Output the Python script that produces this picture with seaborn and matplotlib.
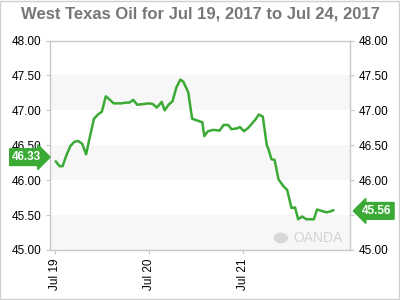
import matplotlib
matplotlib.use("Agg")
import matplotlib.pyplot as plt
import matplotlib.dates as mdates
import matplotlib.transforms as mtransforms
from matplotlib.patches import Rectangle, Circle
import seaborn as sns
import pandas as pd
import numpy as np

# ---- data ----
start = "2017-07-19 00:00"
hours = [0.25, 1.25, 2.0, 3.0, 4.0, 5.0, 6.0, 7.0, 8.0, 8.75, 10.0, 11.0, 12.0, 13.0, 13.5,
         15.0, 17.0, 18.0, 19.0, 20.0, 21.0, 22.5, 24.0, 25.0, 26.0, 27.25, 28.0, 29.0, 30.0,
         31.0, 32.0, 32.75, 34.0, 35.0, 37.0, 37.6, 38.1, 39.0, 40.3, 42.0, 43.0, 44.2, 45.0,
         46.3, 47.2, 48.2, 49.3, 51.0, 52.0, 53.0, 54.0, 54.4, 55.2, 56.0, 57.0, 58.3, 59.2,
         60.3, 61.2, 62.0, 63.0, 64.1, 66.0, 66.8, 68.0, 69.1, 70.1, 71.0]
prices = [46.27, 46.20, 46.20, 46.36, 46.49, 46.55, 46.56, 46.52, 46.37, 46.57, 46.88, 46.94,
          46.98, 47.20, 47.18, 47.10, 47.10, 47.11, 47.11, 47.15, 47.08, 47.09, 47.10, 47.09,
          47.04, 47.12, 47.00, 47.08, 47.13, 47.33, 47.44, 47.41, 47.26, 46.88, 46.84, 46.83,
          46.63, 46.70, 46.72, 46.71, 46.79, 46.79, 46.73, 46.74, 46.76, 46.70, 46.75, 46.86,
          46.94, 46.91, 46.50, 46.45, 46.30, 46.29, 46.01, 45.91, 45.86, 45.60, 45.61, 45.44,
          45.48, 45.44, 45.44, 45.58, 45.56, 45.54, 45.55, 45.57]
y_ticks = [45.00, 45.50, 46.00, 46.50, 47.00, 47.50, 48.00]
x_ticks = ["2017-07-19", "2017-07-20", "2017-07-21"]
open_price = 46.33
last_price = 45.56
title = "West Texas Oil for Jul 19, 2017 to Jul 24, 2017"

df = pd.DataFrame({"time": pd.Timestamp(start) + pd.to_timedelta(hours, unit="h"),
                   "price": prices})

sns.set_style("white")
plt.rcParams["font.family"] = ["Liberation Sans", "DejaVu Sans"]

GREEN = "#3aaa35"
GRID = "#c8c8c8"

fig = plt.figure(figsize=(4, 3), dpi=100)
ax = fig.add_axes([50/400, 50/300, 300/400, (250-40.5)/300])

for lo in [45.0, 46.0, 47.0]:
    ax.axhspan(lo, lo + 0.5, color="#f7f7f7", zorder=0, lw=0)

sns.lineplot(data=df, x="time", y="price", ax=ax, color=GREEN, linewidth=1.8, zorder=3)

t0 = pd.Timestamp(start)
ax.set_xlim(t0 - pd.Timedelta(hours=1.2), t0 + pd.Timedelta(hours=75.2))
ax.set_ylim(45, 48)
ax.set_yticks(y_ticks)
ax.set_yticklabels([f"{v:.2f}" for v in y_ticks])
ax.set_xticks(pd.to_datetime(x_ticks))
ax.xaxis.set_major_formatter(mdates.DateFormatter("%b %d"))
ax.set_xlabel("")
ax.set_ylabel("")

ax.tick_params(axis="y", which="both", left=True, right=True, labelleft=True, labelright=True,
               length=3, width=0.8, color=GRID, labelsize=8.5, pad=3, labelcolor="black")
ax.tick_params(axis="x", bottom=True, length=3, width=0.8, color=GRID, labelsize=8.5,
               labelrotation=90, pad=3, labelcolor="black")
for s in ax.spines.values():
    s.set_color(GRID)
    s.set_linewidth(1.0)

# price labels
trans = mtransforms.blended_transform_factory(ax.transAxes, ax.transData)
ax.text(-0.078, open_price, f"{open_price:.2f}", transform=trans, ha="center", va="center",
        color="white", fontsize=8.5, fontweight="bold", zorder=5, clip_on=False,
        bbox=dict(boxstyle="rarrow,pad=0.2", fc=GREEN, ec=GREEN))
ax.text(1.09, last_price, f"{last_price:.2f}", transform=trans, ha="center", va="center",
        color="white", fontsize=8.5, fontweight="bold", zorder=5, clip_on=False,
        bbox=dict(boxstyle="larrow,pad=0.2", fc=GREEN, ec=GREEN))

# watermark
fig.text(318/400, 1 - 238/300, "OANDA", ha="center", va="center", color="#d4d4d4",
         fontsize=10)
fig.patches.append(Circle((281/400, 1 - 238/300), 0.018, transform=fig.transFigure,
                          fc="#d8d8d8", ec="none"))

fig.text(0.5, 1 - 14/300, title, ha="center", va="center", color="#777777",
         fontsize=12, fontweight="bold")

fig.patches.append(Rectangle((0.001, 0.002), 0.997, 0.996, transform=fig.transFigure,
                             fill=False, ec="#d0d0d0", lw=1))

fig.savefig("out.png", dpi=100)
